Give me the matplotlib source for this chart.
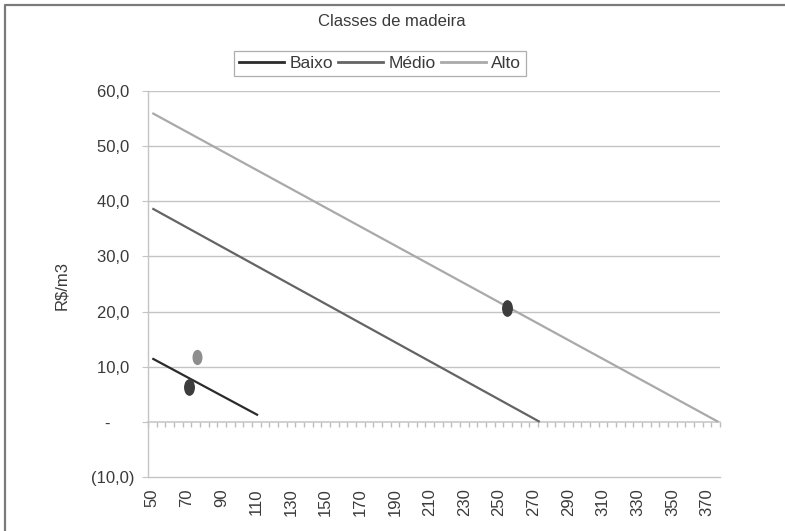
import matplotlib
matplotlib.use("Agg")
import matplotlib.pyplot as plt
from matplotlib.path import Path
from matplotlib.transforms import Affine2D
from matplotlib.lines import Line2D
import numpy as np

plt.rcParams['font.family'] = ['Liberation Sans', 'DejaVu Sans']

# ---- data ----
series_names = ["Baixo", "Médio", "Alto"]
baixo_x = [50, 111]
baixo_y = [11.5, 1.2]
medio_x = [50, 273.5]
medio_y = [38.7, 0.0]
alto_x = [50, 376.5]
alto_y = [56.0, 0.0]

points_dark_x = [71.2, 254.6]
points_dark_y = [6.3, 20.7]
points_light_x = [75.8]
points_light_y = [11.8]

x_tick_labels = list(range(50, 371, 20))
y_ticks = [-10, 0, 10, 20, 30, 40, 50, 60]

colors = {"Baixo": "#2b2b2b", "Médio": "#646464", "Alto": "#a9a9a9"}

fig = plt.figure(figsize=(7.85, 5.31), dpi=100)
ax = fig.add_axes([148/785, 1-477/531, (720-148)/785, (477-91)/531])

grid_c = "#c4c4c4"
txt_c = "#3a3a3a"
ax.set_xlim(47.5, 377.5)
ax.set_ylim(-10, 60)
ax.set_yticks(y_ticks)

def yfmt(v):
    if v == 0:
        return "-     "
    if v < 0:
        return "(" + f"{abs(v):.1f}".replace(".", ",") + ")"
    return f"{v:.1f}".replace(".", ",") + " "

ax.set_yticklabels([yfmt(v) for v in y_ticks])
for v in y_ticks:
    if v > 0:
        ax.axhline(v, color=grid_c, lw=1.0, zorder=1)

ax.set_xticks(x_tick_labels)
ax.set_xticklabels([str(v) for v in x_tick_labels], rotation=90)
ax.tick_params(axis='x', length=0, pad=8, labelsize=12, labelcolor=txt_c)
ax.tick_params(axis='y', length=4, color=grid_c, labelsize=12, labelcolor=txt_c, pad=6)

for s in ['top', 'right']:
    ax.spines[s].set_visible(False)
ax.spines['left'].set_color(grid_c)
ax.spines['bottom'].set_color(grid_c)
ax.spines['left'].set_linewidth(1.0)
ax.spines['bottom'].set_linewidth(1.0)

# zero axis with category boundary ticks
sec = ax.secondary_xaxis(10/70)
sec.set_alignment('bottom')
sec.set_xticks(np.arange(47.5, 377.6, 5))
sec.set_xticklabels([])
sec.tick_params(axis='x', direction='out', length=3.5, color="#bdbdbd", width=1)
sec.spines['bottom'].set_color("#c8c8c8")
sec.spines['bottom'].set_linewidth(1.2)

# lines
ax.plot(baixo_x, baixo_y, color=colors["Baixo"], lw=1.6, zorder=3, solid_capstyle='butt')
ax.plot(medio_x, medio_y, color=colors["Médio"], lw=1.6, zorder=3, solid_capstyle='butt')
ax.plot(alto_x, alto_y, color=colors["Alto"], lw=1.6, zorder=3, solid_capstyle='butt')

ell = Path.unit_circle().transformed(Affine2D().scale(0.62, 1.0))
ax.plot(points_dark_x, points_dark_y, linestyle='none', marker=ell, markersize=11,
        color="#3c3c3c", zorder=4)
ax.plot(points_light_x, points_light_y, linestyle='none', marker=ell, markersize=10,
        color="#8e8e8e", zorder=4)

fig.text(62/785, 1-285/531, "R$/m3", rotation=90, ha='center', va='center',
         fontsize=12, color=txt_c)

fig.text(392/785, 1-22/531, "Classes de madeira", ha='center', va='center',
         fontsize=12, color=txt_c)

handles = [Line2D([], [], color=colors[n], lw=2) for n in series_names]
leg = fig.legend(handles, series_names, loc='center', bbox_to_anchor=(380/785, 1-63.5/531),
                 ncol=3, fontsize=12.5, frameon=True, fancybox=False, handlelength=2.6,
                 handletextpad=0.3, columnspacing=0.3, borderpad=0.3)
leg.get_frame().set_edgecolor("#9a9a9a")
leg.get_frame().set_linewidth(0.9)
for t in leg.get_texts():
    t.set_color(txt_c)

# outer border (left and top)
fig.add_artist(Line2D([5/785, 5/785, 1.0], [0.0, 1-5/531, 1-5/531],
                      transform=fig.transFigure, color="#7a7a7a", lw=1.6))

fig.savefig("out.png", dpi=100)
